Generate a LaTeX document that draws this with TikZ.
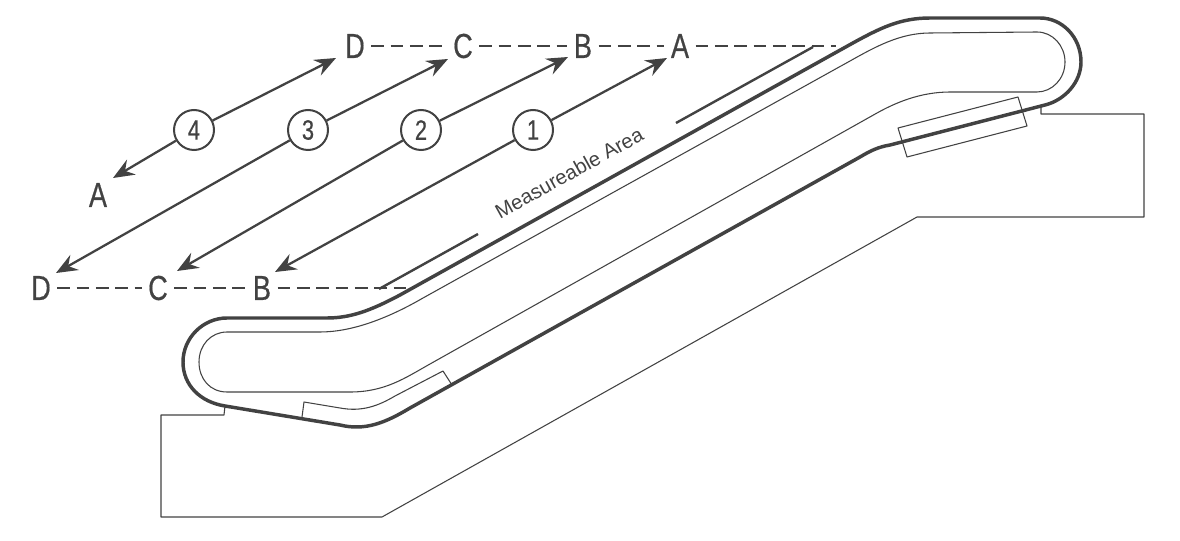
\documentclass[tikz,border=0pt]{standalone}
\usepackage{fontspec}
\setmainfont{Liberation Sans}
\newfontfamily\narrowfont[FakeStretch=0.78,FakeBold=0.5]{Liberation Sans}
\usetikzlibrary{arrows.meta}
\definecolor{inkgrey}{RGB}{66,66,66}
\tikzset{every picture/.style={line width=0.75pt}}
\tikzset{
  handrail/.style={color=inkgrey,line width=2.6pt,line join=round},
  thinline/.style={color=inkgrey,line width=0.8pt,line join=round},
  guideline/.style={color=inkgrey,line width=1.8pt},
  dashline/.style={color=inkgrey,line width=2pt,dash pattern={on 9.5pt off 5pt}},
  arrowline/.style={color=inkgrey,line width=1.7pt,-{Stealth[length=16pt,width=13pt,inset=5.5pt]}},
  pointlabel/.style={text=inkgrey,inner sep=4.5pt,font=\narrowfont\fontsize{26}{26}\selectfont},
  numcircle/.style={circle,draw=inkgrey,line width=1.5pt,fill=white,minimum size=30pt,inner sep=0pt,text=inkgrey,font=\narrowfont\fontsize{21}{21}\selectfont}
}
\begin{document}
\begin{tikzpicture}[x=0.75pt,y=0.75pt,yscale=-1,xscale=1]
\useasboundingbox (0,0) rectangle (1180,541);

%Handrail outer
\draw [handrail] (227,318) -- (327,318) .. controls (350,318) and (370,311) .. (400,295) -- (850,44.6) .. controls (880,28) and (900,18) .. (930,18) -- (1040,18) .. controls (1062,18) and (1081,37) .. (1081,62) .. controls (1081,82) and (1065,100) .. (1045,105) -- (890,145) .. controls (878,147) and (870,151) .. (860,157) -- (410,408) .. controls (385,423) and (365,431) .. (340,425) -- (225,406) .. controls (200,402) and (183,385) .. (183,362) .. controls (183,338) and (203,318) .. (227,318) -- cycle;
%Handrail inner
\draw [thinline] (227,332) -- (320,332) .. controls (350,332) and (385,320) .. (423,298) -- (850,61) .. controls (875,47) and (900,33) .. (930,33) -- (1037,32) .. controls (1053,32) and (1065,46) .. (1065,62) .. controls (1065,79) and (1052,92) .. (1037,92) -- (950,92) .. controls (920,92) and (895,103) .. (877,113) -- (430,364) .. controls (405,378) and (385,392) .. (350,392) -- (227,392) .. controls (210,392) and (199,379) .. (199,362) .. controls (199,345) and (211,332) .. (227,332) -- cycle;
%Lower panel
\draw [thinline] (302,417) -- (304,402) -- (340,408) .. controls (362,412) and (378,406) .. (395,396) -- (443,371) -- (452,385);
%Upper panel
\draw [thinline] (898,128) -- (1018,97) -- (1027,126) -- (907,157) -- cycle;
%Base
\draw [thinline] (225,406) -- (224,415) -- (161,415) -- (161,517) -- (382,517) -- (917,217) -- (1144,217) -- (1144,114) -- (1041,114) -- (1041,107);

%Measureable area guides
\coordinate (guideAstart) at (676,123);
\coordinate (guideAend) at (813,47);
\coordinate (guideBstart) at (478,234);
\coordinate (guideBend) at (379,289);
\draw [guideline] (guideAstart) -- (guideAend);
\draw [guideline] (guideBstart) -- (guideBend);

% Text Node
\node [text=inkgrey,rotate=29,inner sep=0pt,font=\fontsize{15.2}{15.2}\selectfont] (area) at (569,173) {Measureable Area};

% Upper points
\node [pointlabel] (upD) at (355,46) {D};
\node [pointlabel] (upC) at (463,46) {C};
\node [pointlabel] (upB) at (583,46) {B};
\node [pointlabel] (upA) at (680,46) {A};
\coordinate (upEnd) at (836,46);
% Lower points
\node [pointlabel] (lowD) at (41,288) {D};
\node [pointlabel] (lowC) at (158,288) {C};
\node [pointlabel] (lowB) at (262,288) {B};
\node [pointlabel] (lowA) at (98,195) {A};
\coordinate (lowEnd) at (413,288);

\draw [dashline] (upD) -- (upC);
\draw [dashline] (upC) -- (upB);
\draw [dashline] (upB) -- (upA);
\draw [dashline] (upA) -- (upEnd);
\draw [dashline] (lowD) -- (lowC);
\draw [dashline] (lowC) -- (lowB);
\draw [dashline] (lowB) -- (lowEnd);

% Numbered circles
\node [numcircle] (num4) at (194,130) {4};
\node [numcircle] (num3) at (308,130) {3};
\node [numcircle] (num2) at (421,130) {2};
\node [numcircle] (num1) at (533,130) {1};

% Arrow ends
\coordinate (tip4up) at (336,58);
\coordinate (tip4low) at (113,178);
\coordinate (tip3up) at (448,59);
\coordinate (tip3low) at (56,273);
\coordinate (tip2up) at (568,57);
\coordinate (tip2low) at (177,271);
\coordinate (tip1up) at (667,58);
\coordinate (tip1low) at (275,272);

\draw [arrowline] (num4) -- (tip4up);
\draw [arrowline] (num4) -- (tip4low);
\draw [arrowline] (num3) -- (tip3up);
\draw [arrowline] (num3) -- (tip3low);
\draw [arrowline] (num2) -- (tip2up);
\draw [arrowline] (num2) -- (tip2low);
\draw [arrowline] (num1) -- (tip1up);
\draw [arrowline] (num1) -- (tip1low);

\end{tikzpicture}
\end{document}
